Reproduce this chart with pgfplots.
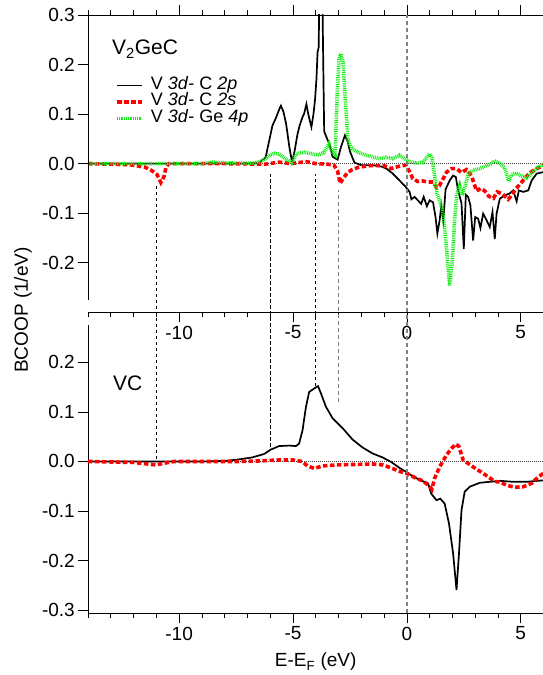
\documentclass[border=0pt]{standalone}
\usepackage{fontspec}
\setmainfont{Liberation Sans}
\usepackage{pgfplots}
\pgfplotsset{compat=1.18}
\definecolor{cred}{RGB}{255,0,0}
\definecolor{cgreen}{RGB}{20,235,20}
\pgfplotsset{
  panel/.style={
    scale only axis, width=455.5pt, xmin=-14, xmax=6,
    xtick={-10,-5,0,5}, xticklabels={-10,-5,0,5},
    minor xtick={-14,-13,...,6},
    major tick length=10pt, minor tick length=5pt,
    tick style={black, line width=0.6pt},
    axis line style={black, line width=0.6pt},
    ticklabel style={font=\fontsize{19}{19}\selectfont},
    yticklabel style={inner sep=3pt},
  },
  blk/.style={black, line width=1.7pt},
  rdd/.style={cred, line width=3.6pt, dash pattern=on 4.5pt off 2.5pt},
  grn/.style={cgreen, line width=3.6pt, dash pattern=on 0.9pt off 0.9pt},
  zer/.style={black!75, line width=0.6pt, dash pattern=on 0.8pt off 1.2pt},
  bd/.style={black, line width=0.8pt, dash pattern=on 3.5pt off 2.5pt},
  gd/.style={black!50, line width=1.5pt, dash pattern=on 4pt off 3pt},
}
\begin{document}
\begin{tikzpicture}
\path[use as bounding box] (0,0) rectangle (543pt,675pt);
% ---------------- top panel: V2GeC
\begin{axis}[panel, at={(88pt,362.7pt)}, anchor=south west, height=297.3pt,
  ymin=-0.3, ymax=0.3,
  axis y line*=left, y axis line style={draw=none},
  tick align=outside, xtick pos=both, xticklabel pos=lower,
  ytick={-0.2,-0.1,0,0.1,0.2,0.3}, yticklabels={-0.2,-0.1,0.0,0.1,0.2,0.3},
  legend style={draw=none, fill=none, at={(0,1)}, anchor=north west,
    xshift=27pt, yshift=-62pt, inner sep=0pt, row sep=0pt, column sep=6pt,
    nodes={inner sep=1pt, text height=11pt, text depth=3.5pt, anchor=west},
    font=\fontsize{18}{18}\selectfont},
  legend cell align=left,
  legend image code/.code={\draw[#1] (0pt,0pt) -- (25pt,0pt);},
]
\addplot[zer, forget plot] coordinates {(-14,0) (6,0)};
\addplot[blk] coordinates {(-14,0) (-7,0) (-6.5,0.001) (-6.2,0.013) (-6.05,0.045) (-5.9,0.077) (-5.75,0.092) (-5.6,0.11) (-5.53,0.117) (-5.42,0.105) (-5.3,0.08) (-5.16,0.034) (-5.04,0.003) (-4.93,0.025) (-4.8,0.06) (-4.7,0.078) (-4.58,0.094) (-4.51,0.101) (-4.41,0.12) (-4.32,0.098) (-4.19,0.074) (-4.1,0.1) (-4.03,0.13) (-3.97,0.17) (-3.92,0.225) (-3.87,0.235) (-3.84,0.36) (-3.77,0.42) (-3.72,0.38) (-3.67,0.2) (-3.63,0.065) (-3.5,0.05) (-3.4,0.04) (-3.26,0.014) (-3.04,0.008) (-2.89,0.034) (-2.72,0.057) (-2.6,0.045) (-2.5,0.025) (-2.3,0.002) (-2.0,-0.003) (-1.5,-0.003) (-1.1,-0.006) (-0.9,-0.01) (-0.62,-0.02) (-0.3,-0.035) (-0.05,-0.047) (0.12,-0.057) (0.2,-0.072) (0.34,-0.067) (0.48,-0.074) (0.63,-0.081) (0.74,-0.067) (0.88,-0.086) (1.0,-0.074) (1.15,-0.078) (1.26,-0.108) (1.34,-0.141) (1.44,-0.114) (1.51,-0.085) (1.6,-0.115) (1.7,-0.052) (1.88,-0.034) (2.03,-0.024) (2.15,-0.027) (2.25,-0.054) (2.4,-0.08) (2.5,-0.172) (2.59,-0.063) (2.69,-0.067) (2.79,-0.084) (2.91,-0.155) (3.0,-0.108) (3.13,-0.111) (3.23,-0.13) (3.35,-0.101) (3.5,-0.114) (3.64,-0.128) (3.76,-0.098) (3.86,-0.152) (3.94,-0.101) (4.08,-0.071) (4.3,-0.064) (4.52,-0.06) (4.67,-0.054) (4.82,-0.076) (4.92,-0.054) (5.11,-0.057) (5.33,-0.054) (5.48,-0.034) (5.7,-0.02) (6,-0.017)};
\addlegendentry{V \textit{3d}- C \textit{2p}}
\addplot[rdd] coordinates {(-14,0) (-12.2,-0.002) (-11.5,-0.007) (-11.2,-0.014) (-10.97,-0.022) (-10.8,-0.038) (-10.67,-0.027) (-10.57,-0.007) (-10.45,0) (-8,0) (-6.2,-0.001) (-5.6,0.003) (-5.1,0.0) (-4.6,0.003) (-4.4,0.004) (-4.0,0) (-3.5,-0.001) (-3.2,-0.003) (-3.04,-0.015) (-2.93,-0.04) (-2.8,-0.03) (-2.6,-0.018) (-2.4,-0.012) (-2.1,-0.007) (-1.6,-0.004) (-1.0,-0.004) (-0.7,-0.01) (-0.4,-0.006) (-0.05,-0.003) (0.12,-0.016) (0.26,-0.03) (0.48,-0.036) (0.7,-0.035) (0.93,-0.037) (1.15,-0.037) (1.3,-0.048) (1.42,-0.045) (1.6,-0.03) (1.75,-0.017) (1.96,-0.01) (2.18,-0.01) (2.4,-0.018) (2.62,-0.012) (2.84,-0.025) (3.06,-0.055) (3.25,-0.05) (3.42,-0.055) (3.6,-0.066) (3.8,-0.07) (3.97,-0.057) (4.2,-0.061) (4.45,-0.072) (4.6,-0.064) (4.8,-0.05) (5.0,-0.04) (5.2,-0.028) (5.45,-0.017) (5.7,-0.01) (6,-0.004)};
\addlegendentry{V \textit{3d}- C \textit{2s}}
\addplot[grn] coordinates {(-14,0) (-9,0) (-8.5,0.003) (-8.1,0.002) (-7.5,0.001) (-6.7,0.001) (-6.4,0.005) (-6.2,0.01) (-6.0,0.018) (-5.8,0.021) (-5.6,0.019) (-5.35,0.01) (-5.05,0.002) (-4.85,0.02) (-4.5,0.023) (-4.2,0.02) (-3.9,0.018) (-3.65,0.022) (-3.42,0.04) (-3.3,0.025) (-3.15,0.018) (-3.06,0.14) (-2.98,0.21) (-2.9,0.222) (-2.8,0.205) (-2.7,0.128) (-2.58,0.047) (-2.42,0.03) (-2.1,0.022) (-1.7,0.016) (-1.2,0.01) (-0.91,0.013) (-0.62,0.01) (-0.32,0.017) (-0.1,0.01) (0.12,0.004) (0.41,0.001) (0.7,0.002) (1.0,0.02) (1.1,0.012) (1.22,-0.025) (1.32,-0.06) (1.44,-0.074) (1.56,-0.094) (1.66,-0.13) (1.76,-0.182) (1.88,-0.246) (2.0,-0.195) (2.1,-0.11) (2.2,-0.06) (2.32,-0.044) (2.44,-0.064) (2.56,-0.045) (2.7,-0.02) (2.95,-0.013) (3.2,-0.01) (3.5,-0.004) (3.72,0) (3.86,0.006) (4.08,0) (4.3,-0.008) (4.47,-0.036) (4.6,-0.022) (4.8,-0.019) (5.04,-0.025) (5.26,-0.029) (5.55,-0.016) (5.77,-0.007) (6,-0.002)};
\addlegendentry{V \textit{3d}- Ge \textit{4p}}
\end{axis}
% ---------------- bottom panel: VC
\begin{axis}[panel, at={(88pt,61.7pt)}, anchor=south west, height=288.3pt,
  ymin=-0.306, ymax=0.275, clip=false,
  axis x line*=bottom, axis y line*=left, tick align=outside,
  ytick={-0.3,-0.2,-0.1,0,0.1,0.2}, yticklabels={-0.3,-0.2,-0.1,0.0,0.1,0.2},
]
\addplot[zer] coordinates {(-14,0) (6,0)};
\addplot[blk] coordinates {(-14,0) (-9,0) (-8,0.001) (-7.4,0.004) (-6.8,0.008) (-6.27,0.015) (-5.97,0.024) (-5.61,0.031) (-5.17,0.032) (-4.87,0.031) (-4.73,0.036) (-4.58,0.063) (-4.43,0.11) (-4.29,0.14) (-4.07,0.147) (-3.9,0.152) (-3.77,0.137) (-3.55,0.11) (-3.26,0.087) (-2.82,0.067) (-2.38,0.044) (-1.94,0.028) (-1.5,0.016) (-1.06,0.008) (-0.69,-0.001) (-0.32,-0.013) (-0.03,-0.021) (0.26,-0.03) (0.6,-0.038) (0.93,-0.044) (1.07,-0.065) (1.3,-0.078) (1.47,-0.075) (1.66,-0.085) (1.85,-0.125) (2.03,-0.185) (2.18,-0.259) (2.29,-0.185) (2.4,-0.098) (2.54,-0.061) (2.76,-0.051) (3.2,-0.043) (3.64,-0.041) (4.08,-0.039) (4.67,-0.041) (5.26,-0.041) (6,-0.038)};
\addplot[rdd] coordinates {(-14,0) (-12,-0.002) (-11.6,-0.004) (-11.04,-0.007) (-10.6,-0.003) (-10.2,0) (-7.4,0) (-6.5,0.001) (-5.6,0.003) (-5.0,0.003) (-4.6,0) (-4.36,-0.009) (-4.07,-0.014) (-3.7,-0.009) (-3.11,-0.007) (-2.23,-0.006) (-1.5,-0.005) (-1.06,-0.007) (-0.69,-0.013) (-0.32,-0.02) (0.05,-0.025) (0.41,-0.034) (0.7,-0.039) (1.0,-0.05) (1.1,-0.056) (1.22,-0.034) (1.44,-0.011) (1.74,0.013) (1.96,0.026) (2.15,0.035) (2.29,0.03) (2.47,0.003) (2.91,-0.011) (3.35,-0.024) (3.79,-0.038) (3.95,-0.041) (4.08,-0.041) (4.38,-0.048) (4.74,-0.052) (5.11,-0.051) (5.48,-0.044) (5.77,-0.031) (6,-0.024)};
% vertical guide lines spanning both panels
\addplot[bd] coordinates {(-11,0.004) (-11,0.557)};
\addplot[bd] coordinates {(-6,0.03) (-6,0.58)};
\addplot[bd] coordinates {(-4,0.152) (-4,0.58)};
\addplot[gd] coordinates {(-3,0.12) (-3,0.547)};
\addplot[gd] coordinates {(0,-0.306) (0,0.9)};
\end{axis}
% top panel left axis line (shorter than the box)
\draw[black, line width=0.6pt] (88pt,375pt) -- (88pt,660pt);
% labels
\node[anchor=base west, inner sep=0pt, font=\fontsize{21}{21}\selectfont] at (112pt,620pt) {V\textsubscript{2}GeC};
\node[anchor=base west, inner sep=0pt, font=\fontsize{21}{21}\selectfont] at (113pt,284.3pt) {VC};
\node[rotate=90, inner sep=0pt, font=\fontsize{19}{19}\selectfont] at (23pt,365pt) {BCOOP (1/eV)};
\node[inner sep=0pt, font=\fontsize{19}{19}\selectfont] at (315.7pt,13pt) {E-E\textsubscript{F} (eV)};
\end{tikzpicture}
\end{document}
